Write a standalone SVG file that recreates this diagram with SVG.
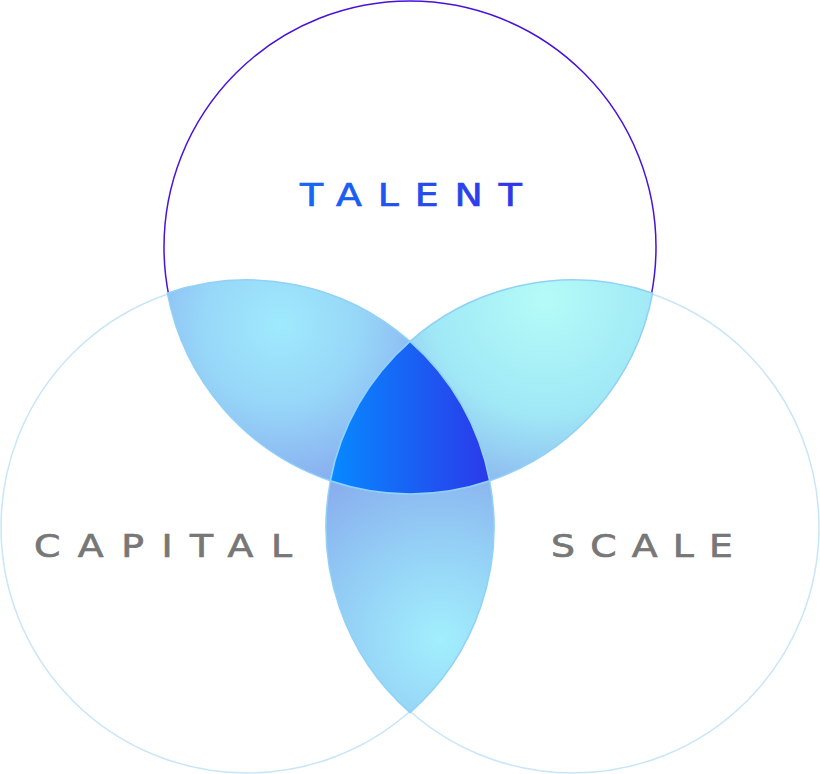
<svg xmlns="http://www.w3.org/2000/svg" width="820" height="774" viewBox="0 0 820 774">
  <defs>
    <style>
      .circle { fill: none; stroke-width: 1.5; }
      .lens { stroke: #8fd2f6; stroke-width: 1.5; }
      .label { font-family: "DejaVu Sans", "Liberation Sans", sans-serif; font-weight: normal; font-size: 32px; stroke-width: 0.7; }
      .grey { fill: #777777; stroke: #777777; }
    </style>
    <linearGradient id="gTalent" gradientUnits="userSpaceOnUse" x1="0" y1="0" x2="188" y2="0">
      <stop offset="0" stop-color="#1569f2"/>
      <stop offset="1" stop-color="#3333ea"/>
    </linearGradient>
    <linearGradient id="gCore" gradientUnits="userSpaceOnUse" x1="332" y1="0" x2="488" y2="0">
      <stop offset="0" stop-color="#0789ff"/>
      <stop offset="1" stop-color="#2b3aea"/>
    </linearGradient>
    <radialGradient id="gLeft" gradientUnits="userSpaceOnUse" cx="280" cy="325" r="180">
      <stop offset="0" stop-color="#9feafd"/>
      <stop offset="0.45" stop-color="#97d6f8"/>
      <stop offset="1" stop-color="#85a6ee"/>
    </radialGradient>
    <radialGradient id="gRight" gradientUnits="userSpaceOnUse" cx="545" cy="300" r="210">
      <stop offset="0" stop-color="#b4fbf8"/>
      <stop offset="0.55" stop-color="#a0e8f6"/>
      <stop offset="1" stop-color="#88aeee"/>
    </radialGradient>
    <radialGradient id="gBottom" gradientUnits="userSpaceOnUse" cx="440" cy="640" r="210">
      <stop offset="0" stop-color="#a2effd"/>
      <stop offset="0.5" stop-color="#93cdf5"/>
      <stop offset="1" stop-color="#86a6ec"/>
    </radialGradient>
  </defs>

  <rect width="820" height="774" fill="#ffffff"/>

  <g id="circle-capital">
    <circle class="circle" cx="247" cy="527" r="246" stroke="#c8e6f8"/>
  </g>
  <g id="circle-scale">
    <circle class="circle" cx="573" cy="527" r="246" stroke="#c8e6f8"/>
  </g>
  <g id="circle-talent">
    <circle class="circle" cx="410" cy="247" r="246" stroke="#4712dc"/>
  </g>

  <g id="lens-talent-capital">
    <path class="lens" fill="url(#gLeft)" d="M167.36,293.19 A247,247 0 0 1 410,341.42 A247,247 0 0 0 330.36,480.81 A247,247 0 0 1 167.36,293.19 Z"/>
  </g>
  <g id="lens-talent-scale">
    <path class="lens" fill="url(#gRight)" d="M652.64,293.19 A247,247 0 0 0 410,341.42 A247,247 0 0 1 489.64,480.81 A247,247 0 0 0 652.64,293.19 Z"/>
  </g>
  <g id="lens-capital-scale">
    <path class="lens" fill="url(#gBottom)" d="M330.36,480.81 A247,247 0 0 0 489.64,480.81 A247,247 0 0 1 410,712.58 A247,247 0 0 1 330.36,480.81 Z"/>
  </g>
  <g id="core">
    <path class="lens" fill="url(#gCore)" d="M410,341.42 A247,247 0 0 1 489.64,480.81 A247,247 0 0 1 330.36,480.81 A247,247 0 0 1 410,341.42 Z"/>
  </g>

  <g id="label-talent" transform="translate(300,206) scale(1.18,1)">
    <text class="label" x="0" y="0" textLength="188" lengthAdjust="spacing" fill="url(#gTalent)" stroke="url(#gTalent)">TALENT</text>
  </g>
  <g id="label-capital" transform="translate(34,557) scale(1.18,1)">
    <text class="label grey" x="0" y="0" textLength="218.6" lengthAdjust="spacing">CAPITAL</text>
  </g>
  <g id="label-scale" transform="translate(551,557) scale(1.18,1)">
    <text class="label grey" x="0" y="0" textLength="154.2" lengthAdjust="spacing">SCALE</text>
  </g>
</svg>
